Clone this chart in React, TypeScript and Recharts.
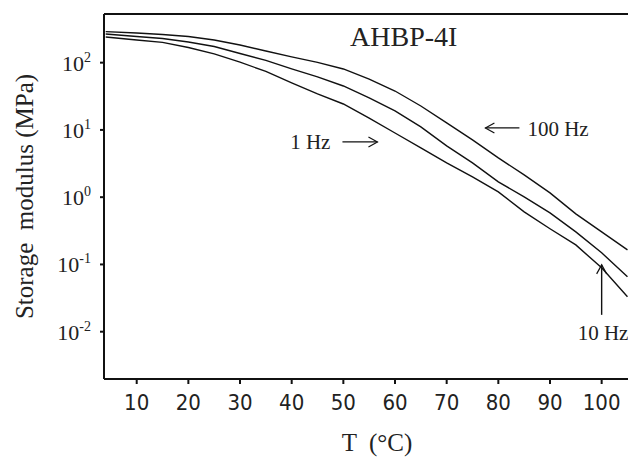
import { LineChart, Line, XAxis, YAxis, ReferenceLine, ReferenceDot, Label } from "recharts"

// temperature (°C) and storage modulus (MPa)
const temps = [4, 10, 15, 20, 25, 30, 35, 40, 45, 50, 55, 60, 65, 70, 75, 80, 85, 90, 95, 100, 105]
const mod1Hz = [241, 217, 200, 168, 135, 102, 74, 49.9, 34.3, 24.3, 15.0, 9.0, 5.39, 3.24, 2.0, 1.2, 0.604, 0.339, 0.195, 0.089, 0.033]
const mod10Hz = [267, 245, 229, 203, 174, 137, 108, 80.6, 61.4, 45, 29.9, 19.2, 11.1, 5.78, 3.24, 1.69, 1.01, 0.584, 0.305, 0.149, 0.0655]
const mod100Hz = [289, 276, 262, 245, 217, 183, 149, 122, 101, 80.6, 57, 37.9, 22.7, 12.7, 7.1, 3.84, 2.14, 1.16, 0.565, 0.305, 0.165]

const xTicks = [10, 20, 30, 40, 50, 60, 70, 80, 90, 100]
const yTicks = [0.01, 0.1, 1, 10, 100]
const xDomain = [3.67, 105.1]
const yDomain = [0.00198, 529]

// annotation anchors (arrow tips) in data units
const title = { t: 51.3, v: 177, text: "AHBP-4I" }
const note100 = { t: 77.5, v: 10.7, text: "100 Hz" }
const note1 = { t: 56.6, v: 6.63, text: "1 Hz" }
const note10 = { t: 100, v: 0.0986, text: "10 Hz" }

const data = temps.map((t, i) => ({ t, f1: mod1Hz[i], f10: mod10Hz[i], f100: mod100Hz[i] }))

const serif = '"Liberation Serif", "Times New Roman", serif'
const narrow = '"Liberation Sans Narrow", "DejaVu Sans Condensed", "Liberation Sans", sans-serif'
const ink = "#111"

function XTick({ x, y, payload }: any) {
  return (
    <text x={x} y={y} dy={24} textAnchor="middle" fontFamily={narrow} fontSize={22} fill="#222">
      {payload.value}
    </text>
  )
}

function YTick({ x, y, payload }: any) {
  const exp = Math.round(Math.log10(payload.value))
  return (
    <text x={x - 7} y={y} dy={8} textAnchor="end" fontFamily={serif} fontSize={22} fill="#222">
      <tspan>10</tspan>
      <tspan dy={-9} fontSize={14}>{exp}</tspan>
    </text>
  )
}

const head = (x: number, y: number, dx: number, dy: number) => {
  // open chevron arrow head pointing along (dx, dy)
  const px = -dy, py = dx
  return `M${x - dx * 9 + px * 5},${y - dy * 9 + py * 5} L${x},${y} L${x - dx * 9 - px * 5},${y - dy * 9 - py * 5}`
}

export default function App() {
  return (
    <div style={{ position: "absolute", left: 0, top: 0, background: "#fff" }}>
      <LineChart width={628} height={464} data={data} margin={{ top: 14, right: 0, left: 0, bottom: 0 }}>
        <XAxis
          dataKey="t"
          type="number"
          domain={xDomain}
          ticks={xTicks}
          allowDataOverflow
          height={85}
          tick={<XTick />}
          tickSize={5}
          stroke={ink}
          strokeWidth={2}
        >
          <Label
            content={({ viewBox }: any) => (
              <text
                x={viewBox.x + 273}
                y={viewBox.y + 72}
                textAnchor="middle"
                fontFamily={serif}
                fontSize={25}
                fill="#222"
                style={{ whiteSpace: "pre" }}
              >
                {"T  (°C)"}
              </text>
            )}
          />
        </XAxis>
        <YAxis
          type="number"
          scale="log"
          domain={yDomain}
          ticks={yTicks}
          allowDataOverflow
          width={104}
          tick={<YTick />}
          tickSize={4}
          stroke={ink}
          strokeWidth={2}
        >
          <Label
            content={({ viewBox }: any) => (
              <text
                x={viewBox.x + 33}
                y={viewBox.y + viewBox.height / 2}
                transform={`rotate(-90 ${viewBox.x + 33} ${viewBox.y + viewBox.height / 2})`}
                textAnchor="middle"
                fontFamily={serif}
                fontSize={25}
                fill="#222"
                style={{ whiteSpace: "pre" }}
              >
                {"Storage  modulus (MPa)"}
              </text>
            )}
          />
        </YAxis>
        <ReferenceLine y={yDomain[1]} stroke={ink} strokeWidth={2} />
        <Line dataKey="f1" stroke={ink} strokeWidth={1.4} dot={false} isAnimationActive={false} />
        <Line dataKey="f10" stroke={ink} strokeWidth={1.4} dot={false} isAnimationActive={false} />
        <Line dataKey="f100" stroke={ink} strokeWidth={1.4} dot={false} isAnimationActive={false} />
        <ReferenceDot
          x={title.t}
          y={title.v}
          ifOverflow="visible"
          shape={({ cx, cy }: any) => (
            <text x={cx} y={cy} fontFamily={serif} fontSize={28} fill="#222">{title.text}</text>
          )}
        />
        <ReferenceDot
          x={note100.t}
          y={note100.v}
          ifOverflow="visible"
          shape={({ cx, cy }: any) => (
            <g>
              <path d={`M${cx},${cy} L${cx + 34},${cy}`} stroke={ink} strokeWidth={1.2} fill="none" />
              <path d={head(cx, cy, -1, 0)} stroke={ink} strokeWidth={1.2} fill="none" />
              <text x={cx + 42} y={cy + 8} fontFamily={serif} fontSize={21} fill="#222">{note100.text}</text>
            </g>
          )}
        />
        <ReferenceDot
          x={note1.t}
          y={note1.v}
          ifOverflow="visible"
          shape={({ cx, cy }: any) => (
            <g>
              <path d={`M${cx - 35},${cy} L${cx},${cy}`} stroke={ink} strokeWidth={1.2} fill="none" />
              <path d={head(cx, cy, 1, 0)} stroke={ink} strokeWidth={1.2} fill="none" />
              <text x={cx - 47} y={cy + 7} textAnchor="end" fontFamily={serif} fontSize={21} fill="#222">{note1.text}</text>
            </g>
          )}
        />
        <ReferenceDot
          x={note10.t}
          y={note10.v}
          ifOverflow="visible"
          shape={({ cx, cy }: any) => (
            <g>
              <path d={`M${cx},${cy} L${cx},${cy + 50}`} stroke={ink} strokeWidth={1.4} fill="none" />
              <path d={head(cx, cy, 0, -1)} stroke={ink} strokeWidth={1.2} fill="none" />
              <text x={cx - 24} y={cy + 75} fontFamily={serif} fontSize={21} fill="#222">{note10.text}</text>
            </g>
          )}
        />
      </LineChart>
    </div>
  )
}
